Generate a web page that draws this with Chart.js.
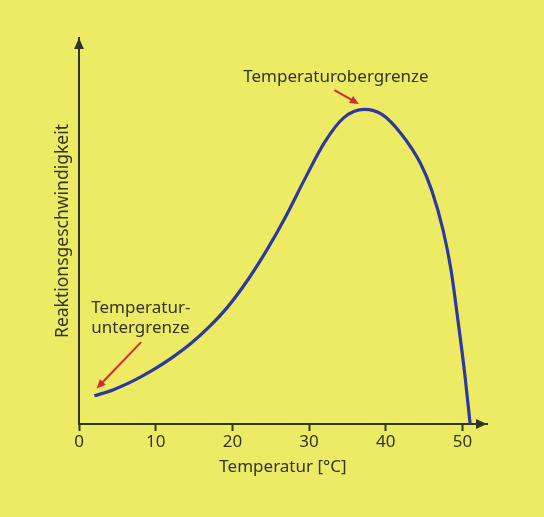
<!DOCTYPE html>
<html>
<head>
<meta charset="utf-8">
<script src="https://cdn.jsdelivr.net/npm/chart.js@4.4.0/dist/chart.umd.min.js"></script>
<style>
  html, body { margin: 0; padding: 0; background: #edeb64; }
  #wrap { width: 544px; height: 517px; position: relative; }
</style>
</head>
<body>
<div id="wrap"><canvas id="curve"></canvas></div>
<script>
// temperature in °C and reaction rate (arbitrary units, 0-100)
const temperatures = [2, 4.5, 7, 9.5, 12, 14.5, 17, 19.5, 22, 24.5, 27, 29.5, 32, 34.5, 37.2, 39.5, 42, 44.5, 46, 47.5, 48.5, 49.5, 50.3, 51];
const rates = [7.3, 8.9, 11.1, 13.8, 17.0, 20.7, 25.2, 30.6, 37.3, 45.1, 53.9, 63.7, 72.9, 79.3, 81.5, 80.2, 75.2, 67.6, 60.5, 50.0, 40.0, 25.5, 13.0, 0];
const xTickValues = [0, 10, 20, 30, 40, 50];

const ink = "#35351f";
const red = "#d42a34";
const fontFamily = "'Noto Sans', sans-serif";

const notes = [
  { lines: ["Temperaturobergrenze"], x: 33.5, y: 89.9, align: "center", from: [33.3, 86.5], to: [36.5, 82.9] },
  { lines: ["Temperatur-", "untergrenze"], x: 1.6, y: 30.0, align: "left", from: [8.1, 21.2], to: [2.3, 9.2] }
];

function arrow(ctx, x1, y1, x2, y2, color, width, head) {
  const a = Math.atan2(y2 - y1, x2 - x1);
  ctx.save();
  ctx.strokeStyle = color;
  ctx.fillStyle = color;
  ctx.lineWidth = width;
  ctx.beginPath();
  ctx.moveTo(x1, y1);
  ctx.lineTo(x2 - Math.cos(a) * head * 0.8, y2 - Math.sin(a) * head * 0.8);
  ctx.stroke();
  ctx.beginPath();
  ctx.moveTo(x2, y2);
  ctx.lineTo(x2 - head * Math.cos(a) + head * 0.45 * Math.sin(a), y2 - head * Math.sin(a) - head * 0.45 * Math.cos(a));
  ctx.lineTo(x2 - head * Math.cos(a) - head * 0.45 * Math.sin(a), y2 - head * Math.sin(a) + head * 0.45 * Math.cos(a));
  ctx.closePath();
  ctx.fill();
  ctx.restore();
}

const extras = {
  id: "extras",
  afterDraw(chart) {
    const { ctx, chartArea } = chart;
    const xs = chart.scales.x, ys = chart.scales.y;
    // axis arrow heads
    arrow(ctx, chartArea.right - 2, chartArea.bottom, chartArea.right, chartArea.bottom, ink, 2, 11);
    arrow(ctx, chartArea.left, chartArea.top + 2, chartArea.left, chartArea.top, ink, 2, 11);
    ctx.save();
    ctx.font = "17px " + fontFamily;
    ctx.fillStyle = ink;
    ctx.textBaseline = "middle";
    notes.forEach(n => {
      ctx.textAlign = n.align;
      n.lines.forEach((t, i) => {
        ctx.fillText(t, xs.getPixelForValue(n.x), ys.getPixelForValue(n.y) + i * 20);
      });
      arrow(ctx, xs.getPixelForValue(n.from[0]), ys.getPixelForValue(n.from[1]),
        xs.getPixelForValue(n.to[0]), ys.getPixelForValue(n.to[1]), red, 2, 9);
    });
    ctx.restore();
  }
};

new Chart(document.getElementById("curve"), {
  type: "line",
  data: {
    datasets: [{
      data: temperatures.map((t, i) => ({ x: t, y: rates[i] })),
      borderColor: "#2c3a9e",
      borderWidth: 3.2,
      pointRadius: 0,
      cubicInterpolationMode: "monotone",
      fill: false
    }]
  },
  options: {
    responsive: true,
    maintainAspectRatio: false,
    animation: false,
    layout: { padding: { top: 38, right: 57, left: 0, bottom: 0 } },
    plugins: { legend: { display: false }, tooltip: { enabled: false } },
    scales: {
      x: {
        type: "linear",
        min: 0,
        max: 53.2,
        afterBuildTicks: s => { s.ticks = xTickValues.map(v => ({ value: v })); },
        afterFit: s => { s.height = 93; },
        grid: { drawOnChartArea: false, color: ink, tickLength: 7, tickWidth: 2 },
        border: { display: true, color: ink, width: 2 },
        ticks: { color: ink, font: { family: fontFamily, size: 17 }, padding: 1, maxRotation: 0 },
        title: {
          display: true,
          text: "Temperatur [°C]",
          color: ink,
          font: { family: fontFamily, size: 17 },
          padding: { top: 0, bottom: 40 }
        }
      },
      y: {
        min: 0,
        max: 100,
        afterFit: s => { s.width = 79; },
        grid: { display: false },
        border: { display: true, color: ink, width: 2 },
        ticks: { display: false },
        title: {
          display: true,
          text: "Reaktionsgeschwindigkeit",
          color: ink,
          font: { family: fontFamily, size: 17.5 },
          padding: { top: 53, bottom: 0 }
        }
      }
    }
  },
  plugins: [extras]
});
</script>
</body>
</html>
